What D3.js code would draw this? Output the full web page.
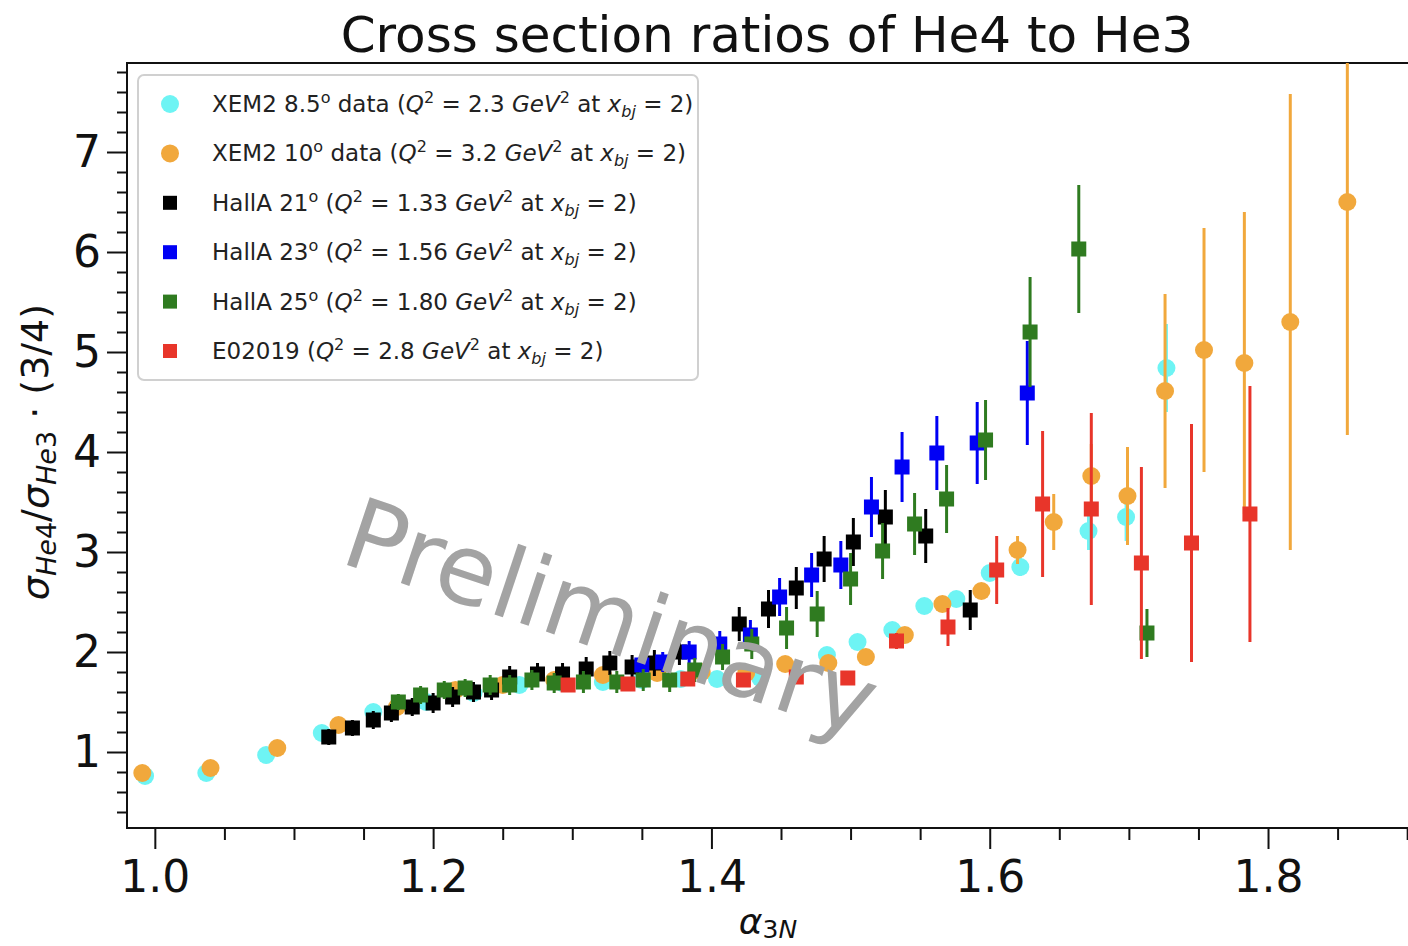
<!DOCTYPE html>
<meta charset="utf-8">
<style>
body { margin: 0; background: #fff; }
svg text { font-family: "DejaVu Sans", sans-serif; }
</style>
<body>
<div id="chart"></div>
<script src="https://cdn.jsdelivr.net/npm/d3@7/dist/d3.min.js"></script>
<script>
// each point: [alpha_3N, ratio, error]
var xem85 = [[0.993,0.76,0.02],[1.037,0.79,0.02],[1.080,0.97,0.02],[1.120,1.19,0.02],[1.157,1.40,0.03],
  [1.195,1.50,0.03],[1.229,1.59,0.03],[1.262,1.67,0.03],[1.293,1.69,0.03],[1.322,1.70,0.03],[1.350,1.72,0.03],
  [1.378,1.73,0.03],[1.404,1.73,0.03],[1.435,1.74,0.04],[1.483,1.97,0.04],[1.505,2.10,0.05],[1.530,2.22,0.05],
  [1.553,2.46,0.05],[1.576,2.53,0.06],[1.600,2.79,0.07],[1.622,2.85,0.09],[1.671,3.21,0.19],[1.698,3.35,0.24],
  [1.727,4.84,0.44]];
var xem10 = [[0.991,0.79,0.02],[1.040,0.84,0.02],[1.088,1.04,0.02],[1.132,1.27,0.02],[1.174,1.45,0.03],
  [1.216,1.62,0.03],[1.250,1.67,0.03],[1.287,1.72,0.03],[1.322,1.77,0.03],[1.361,1.79,0.03],[1.393,1.80,0.03],
  [1.425,1.79,0.04],[1.453,1.88,0.04],[1.484,1.89,0.04],[1.511,1.95,0.05],[1.539,2.17,0.05],[1.566,2.48,0.06],
  [1.594,2.61,0.08],[1.620,3.02,0.14],[1.646,3.30,0.28],[1.673,3.76,0.32],[1.699,3.56,0.49],[1.726,4.61,0.97],
  [1.754,5.02,1.22],[1.783,4.89,1.51],[1.816,5.30,2.28],[1.857,6.50,2.33]];
var hallA21 = [[1.125,1.15,0.08],[1.142,1.24,0.08],[1.157,1.32,0.09],[1.170,1.39,0.09],[1.185,1.45,0.09],
  [1.200,1.49,0.10],[1.214,1.55,0.10],[1.229,1.60,0.10],[1.242,1.62,0.10],[1.255,1.75,0.11],[1.275,1.78,0.11],
  [1.293,1.78,0.11],[1.310,1.83,0.12],[1.327,1.89,0.12],[1.343,1.85,0.12],[1.359,1.89,0.13],[1.377,2.00,0.13],
  [1.420,2.28,0.17],[1.441,2.43,0.19],[1.461,2.64,0.21],[1.481,2.93,0.23],[1.502,3.10,0.24],[1.525,3.35,0.27],
  [1.554,3.16,0.27],[1.586,2.42,0.20]];
var hallA23 = [[1.350,1.87,0.10],[1.365,1.90,0.10],[1.384,2.00,0.11],[1.406,2.08,0.13],[1.428,2.17,0.15],
  [1.449,2.55,0.19],[1.472,2.77,0.22],[1.493,2.87,0.24],[1.515,3.45,0.30],[1.537,3.85,0.35],[1.562,3.99,0.37],
  [1.591,4.09,0.41],[1.627,4.59,0.52]];
var hallA25 = [[1.175,1.50,0.08],[1.191,1.57,0.09],[1.208,1.62,0.09],[1.223,1.64,0.09],[1.241,1.67,0.10],
  [1.255,1.67,0.10],[1.271,1.72,0.10],[1.287,1.69,0.10],[1.308,1.70,0.11],[1.332,1.70,0.11],[1.351,1.72,0.11],
  [1.370,1.72,0.12],[1.388,1.82,0.12],[1.408,1.95,0.13],[1.429,2.08,0.15],[1.454,2.24,0.21],[1.476,2.38,0.23],
  [1.500,2.73,0.26],[1.523,3.01,0.28],[1.546,3.28,0.31],[1.569,3.53,0.34],[1.597,4.12,0.40],[1.629,5.20,0.55],
  [1.664,6.03,0.64],[1.713,2.19,0.24]];
var e02019 = [[1.297,1.67,0.04],[1.340,1.68,0.04],[1.383,1.73,0.05],[1.423,1.72,0.05],[1.461,1.75,0.05],
  [1.498,1.74,0.06],[1.533,2.11,0.08],[1.570,2.25,0.19],[1.605,2.82,0.34],[1.638,3.48,0.73],[1.673,3.43,0.96],
  [1.709,2.89,0.96],[1.745,3.09,1.19],[1.787,3.38,1.28]];

var seriesData = [xem85, xem10, hallA21, hallA23, hallA25, e02019];
var seriesColors = ["#6ef4f4", "#f1a83c", "#000000", "#0000f5", "#2f7b20", "#e8352a"];
var seriesShapes = ["circle", "circle", "square", "square", "square", "square"];
// legend text pieces: [text, style]
var legendLabels = [
  [["XEM2 8.5"],["o","sup"],[" data ("],["Q","i"],["2","sup"],[" = 2.3 "],["GeV","i"],["2","sup"],[" at "],["x","i"],["bj","isub"],[" = 2)"]],
  [["XEM2 10"],["o","sup"],[" data ("],["Q","i"],["2","sup"],[" = 3.2 "],["GeV","i"],["2","sup"],[" at "],["x","i"],["bj","isub"],[" = 2)"]],
  [["HallA 21"],["o","sup"],[" ("],["Q","i"],["2","sup"],[" = 1.33 "],["GeV","i"],["2","sup"],[" at "],["x","i"],["bj","isub"],[" = 2)"]],
  [["HallA 23"],["o","sup"],[" ("],["Q","i"],["2","sup"],[" = 1.56 "],["GeV","i"],["2","sup"],[" at "],["x","i"],["bj","isub"],[" = 2)"]],
  [["HallA 25"],["o","sup"],[" ("],["Q","i"],["2","sup"],[" = 1.80 "],["GeV","i"],["2","sup"],[" at "],["x","i"],["bj","isub"],[" = 2)"]],
  [["E02019 ("],["Q","i"],["2","sup"],[" = 2.8 "],["GeV","i"],["2","sup"],[" at "],["x","i"],["bj","isub"],[" = 2)"]]
];
var xMajor = [1.0, 1.2, 1.4, 1.6, 1.8];
var yMajor = [1, 2, 3, 4, 5, 6, 7];

var W = 1408, H = 946;
var pL = 127, pR = 1435, pT = 63, pB = 828;

var svg = d3.select("#chart").append("svg").attr("width", W).attr("height", H);
var x = d3.scaleLinear().domain([0.98, 1.92]).range([pL, pR]);
var y = d3.scaleLinear().domain([0.24, 7.89]).range([pB, pT]);

// rich text helper (math-ish labels)
function rich(sel, parts, fs, subShift) {
  var small = Math.round(fs * 0.7), shift = 0;
  parts.forEach(function(p) {
    var st = p[1] || "", t = sel.append("tspan").text(p[0]);
    var want = 0;
    if (st == "sup") want = -Math.round(fs * 0.38);
    if (st == "sub" || st == "isub") want = Math.round(fs * (subShift || 0.2));
    if (want != shift) { t.attr("dy", want - shift); shift = want; }
    if (st == "sup" || st == "sub" || st == "isub") t.attr("font-size", small);
    if (st == "i" || st == "isub") t.attr("font-style", "italic");
  });
}

svg.append("clipPath").attr("id", "plotclip").append("rect")
  .attr("x", pL).attr("y", pT).attr("width", W - pL).attr("height", pB - pT);

// minor ticks
var xMinor = d3.range(20, 39).map(function(v) { return v * 0.05; })
  .filter(function(v) { return v <= 1.91 && v % 0.2 > 0.01 && v % 0.2 < 0.19; });
var yMinor = d3.range(2, 40).map(function(v) { return v * 0.2; })
  .filter(function(v) { return v <= 7.89 && Math.abs(v - Math.round(v)) > 1e-6; });

svg.append("g").attr("class", "axis").attr("transform", "translate(0," + pB + ")")
  .call(d3.axisBottom(x).tickValues(xMinor).tickSize(12).tickFormat(""));
svg.append("g").attr("class", "axis").attr("transform", "translate(0," + pB + ")")
  .call(d3.axisBottom(x).tickValues(xMajor).tickSize(21).tickPadding(12).tickFormat(d3.format(".1f")));
svg.append("g").attr("class", "axis").attr("transform", "translate(" + pL + ",0)")
  .call(d3.axisLeft(y).tickValues(yMinor).tickSize(10).tickFormat(""));
svg.append("g").attr("class", "axis").attr("transform", "translate(" + pL + ",0)")
  .call(d3.axisLeft(y).tickValues(yMajor).tickSize(20).tickPadding(6).tickFormat(d3.format("d")));
svg.selectAll(".axis .domain").remove();
svg.selectAll(".axis line").attr("stroke", "#111").attr("stroke-width", 2);
svg.selectAll(".axis text").attr("font-size", 44).attr("fill", "#111")
  .attr("font-family", "DejaVu Sans, sans-serif");

// frame
svg.append("rect").attr("x", pL).attr("y", pT).attr("width", pR - pL).attr("height", pB - pT)
  .attr("fill", "none").attr("stroke", "#111").attr("stroke-width", 2);

// data
var plot = svg.append("g").attr("clip-path", "url(#plotclip)");
seriesData.forEach(function(data, i) {
  var g = plot.append("g");
  g.selectAll("line").data(data).enter().append("line")
    .attr("x1", function(d) { return x(d[0]); }).attr("x2", function(d) { return x(d[0]); })
    .attr("y1", function(d) { return y(d[1] - d[2]); }).attr("y2", function(d) { return y(d[1] + d[2]); })
    .attr("stroke", seriesColors[i]).attr("stroke-width", 3);
  if (seriesShapes[i] == "circle") {
    g.selectAll("circle").data(data).enter().append("circle")
      .attr("cx", function(d) { return x(d[0]); }).attr("cy", function(d) { return y(d[1]); })
      .attr("r", 9).attr("fill", seriesColors[i]);
  } else {
    g.selectAll("rect").data(data).enter().append("rect")
      .attr("x", function(d) { return x(d[0]) - 7.5; }).attr("y", function(d) { return y(d[1]) - 7.5; })
      .attr("width", 15).attr("height", 15).attr("fill", seriesColors[i]);
  }
});

// watermark
svg.append("text").attr("transform", "translate(338,562) rotate(18.5)")
  .attr("font-size", 98).attr("fill", "#a3a3a3").text("Preliminary");

// legend
var leg = svg.append("g");
leg.append("rect").attr("x", 138).attr("y", 75).attr("width", 560).attr("height", 305)
  .attr("rx", 6).attr("fill", "#fff").attr("fill-opacity", 0.85).attr("stroke", "#d0d0d0").attr("stroke-width", 2);
legendLabels.forEach(function(parts, i) {
  var cy = 104 + i * 49.4;
  if (seriesShapes[i] == "circle") {
    leg.append("circle").attr("cx", 170).attr("cy", cy).attr("r", 9).attr("fill", seriesColors[i]);
  } else {
    leg.append("rect").attr("x", 163).attr("y", cy - 7).attr("width", 14).attr("height", 14).attr("fill", seriesColors[i]);
  }
  var t = leg.append("text").attr("x", 212).attr("y", cy + 8).attr("font-size", 23).attr("fill", "#222");
  rich(t, parts, 23);
});

// title and axis labels
svg.append("text").attr("x", 767).attr("y", 52).attr("text-anchor", "middle")
  .attr("font-size", 50).attr("fill", "#111").text("Cross section ratios of He4 to He3");

var xl = svg.append("text").attr("x", 768).attr("y", 934).attr("text-anchor", "middle")
  .attr("font-size", 36).attr("fill", "#111");
rich(xl, [["α","i"],["3","sub"],["N","isub"]], 36, 0.12);

var yl = svg.append("text").attr("transform", "translate(48,452) rotate(-90)").attr("text-anchor", "middle")
  .attr("font-size", 38).attr("fill", "#111");
rich(yl, [["σ","i"],["He","isub"],["4","sub"],["/"],["σ","i"],["He","isub"],["3","sub"],[" · (3/4)"]], 38);
</script>
</body>
